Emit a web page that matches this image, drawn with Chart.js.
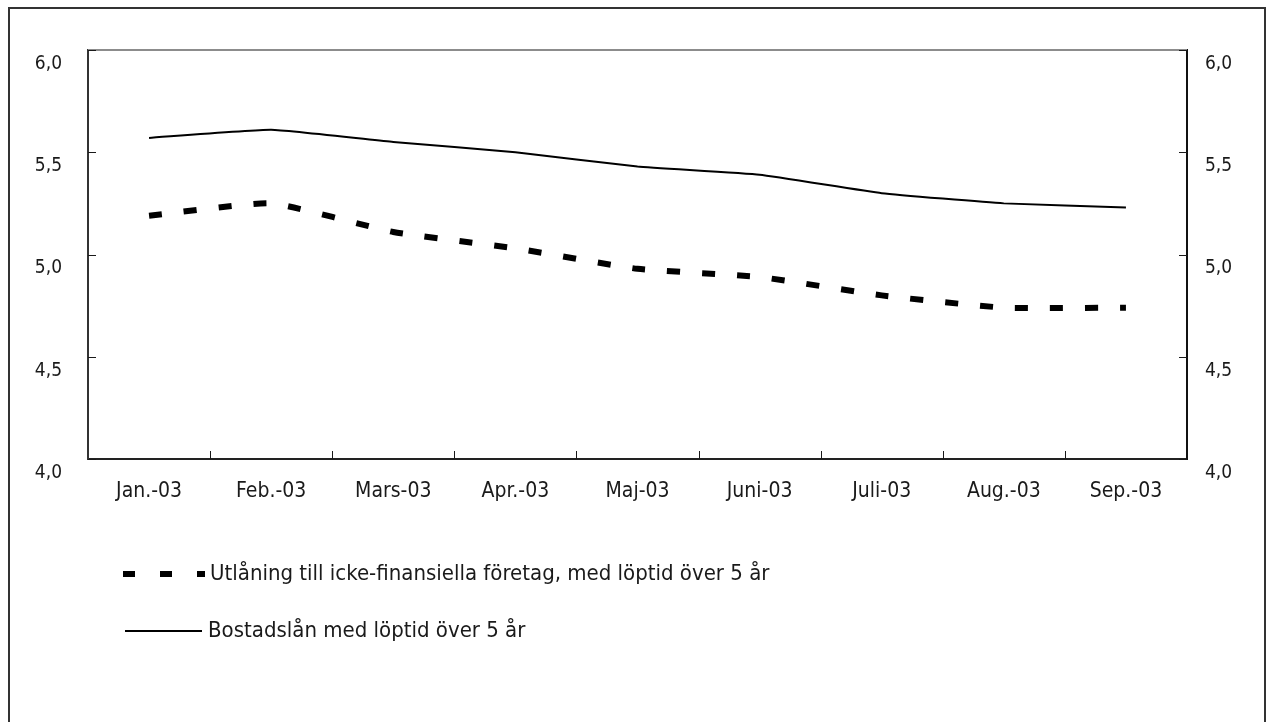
<!DOCTYPE html>
<html>
<head>
<meta charset="utf-8">
<script src="https://cdn.jsdelivr.net/npm/chart.js@4/dist/chart.umd.min.js"></script>
<style>
  html, body { margin: 0; padding: 0; background: #fff; }
  #wrap { width: 1268px; height: 722px; }
</style>
</head>
<body>
<div id="wrap"><canvas id="c" width="1268" height="722"></canvas></div>
<script>
// Data
var months = ['Jan.-03', 'Feb.-03', 'Mars-03', 'Apr.-03', 'Maj-03', 'Juni-03', 'Juli-03', 'Aug.-03', 'Sep.-03'];
var utlaning = [5.19, 5.25, 5.11, 5.03, 4.93, 4.89, 4.80, 4.74, 4.74];
var bostadslan = [5.57, 5.61, 5.55, 5.50, 5.43, 5.39, 5.30, 5.25, 5.23];
var seriesNames = ['Utlåning till icke-finansiella företag, med löptid över 5 år', 'Bostadslån med löptid över 5 år'];
var yMin = 4.0, yMax = 6.0, yStep = 0.5;

var FONT = "'Liberation Sans Narrow', 'Arial Narrow', 'DejaVu Sans Condensed', sans-serif";
var INK = '#1a1a1a';

function fmt(v) {
  return v.toFixed(1).replace('.', ',');
}

// frame, inner ticks and the legend drawn around Chart.js' own scales
var decor = {
  id: 'decor',
  beforeDraw: function (chart) {
    var c = chart.ctx;
    c.save();
    c.strokeStyle = '#333';
    c.lineWidth = 2;
    c.strokeRect(9, 8, 1256, 800);
    c.restore();
  },
  afterDraw: function (chart) {
    var c = chart.ctx;
    var a = chart.chartArea;
    var x = chart.scales.x, y = chart.scales.y;
    var i;
    c.save();
    // top edge of plot area (grey)
    c.strokeStyle = '#8c8c8c';
    c.lineWidth = 2;
    c.beginPath();
    c.moveTo(a.left, a.top);
    c.lineTo(a.right, a.top);
    c.stroke();
    // y ticks pointing inwards on both sides
    c.strokeStyle = INK;
    c.lineWidth = 1;
    y.ticks.forEach(function (t) {
      var py = Math.round(y.getPixelForValue(t.value)) + 0.5;
      c.beginPath();
      c.moveTo(a.left, py);
      c.lineTo(a.left + 8, py);
      c.moveTo(a.right, py);
      c.lineTo(a.right - 8, py);
      c.stroke();
    });
    // x ticks between categories
    for (i = 0; i < months.length - 1; i++) {
      var px = Math.round((x.getPixelForValue(i) + x.getPixelForValue(i + 1)) / 2) + 0.5;
      c.beginPath();
      c.moveTo(px, a.bottom);
      c.lineTo(px, a.bottom - 8);
      c.stroke();
    }
    // legend
    var ds = chart.data.datasets;
    c.font = '22px ' + FONT;
    c.fillStyle = INK;
    c.textBaseline = 'middle';
    c.textAlign = 'left';
    c.strokeStyle = '#000';
    c.lineCap = 'butt';
    c.lineWidth = ds[0].borderWidth;
    c.setLineDash([12, 25]);
    c.beginPath();
    c.moveTo(123, 574);
    c.lineTo(205, 574);
    c.stroke();
    c.fillText(ds[0].label, 210, 574);
    c.setLineDash([]);
    c.lineWidth = ds[1].borderWidth;
    c.beginPath();
    c.moveTo(125, 631);
    c.lineTo(202, 631);
    c.stroke();
    c.fillText(ds[1].label, 208, 631);
    c.restore();
  }
};

new Chart(document.getElementById('c'), {
  type: 'line',
  data: {
    labels: months,
    datasets: [
      {
        label: seriesNames[0],
        data: utlaning,
        borderColor: '#000',
        borderWidth: 6,
        borderDash: [13, 22],
        borderCapStyle: 'butt',
        pointRadius: 0,
        tension: 0.15,
        fill: false
      },
      {
        label: seriesNames[1],
        data: bostadslan,
        borderColor: '#000',
        borderWidth: 2,
        pointRadius: 0,
        tension: 0.12,
        fill: false
      }
    ]
  },
  options: {
    responsive: false,
    animation: false,
    devicePixelRatio: 1,
    layout: { padding: { top: 50, left: 0, right: 0, bottom: 0 } },
    plugins: { legend: { display: false }, tooltip: { enabled: false } },
    scales: {
      x: {
        offset: true,
        grid: { display: false, drawTicks: false },
        border: { display: true, color: '#222', width: 2 },
        ticks: { padding: 20, color: INK, font: { family: FONT, size: 21 }, maxRotation: 0 },
        afterFit: function (s) { s.height = 263; }
      },
      y: {
        position: 'left',
        min: yMin,
        max: yMax,
        grid: { display: false, drawTicks: false },
        border: { display: true, color: '#333', width: 2 },
        ticks: {
          stepSize: yStep,
          padding: 26,
          labelOffset: 14,
          color: INK,
          font: { family: FONT, size: 19 },
          callback: function (v) { return fmt(v); }
        },
        afterFit: function (s) { s.width = 88; }
      },
      y2: {
        position: 'right',
        min: yMin,
        max: yMax,
        grid: { display: false, drawTicks: false },
        border: { display: true, color: '#111', width: 2 },
        ticks: {
          stepSize: yStep,
          padding: 18,
          labelOffset: 14,
          color: INK,
          font: { family: FONT, size: 19 },
          callback: function (v) { return fmt(v); }
        },
        afterFit: function (s) { s.width = 81; }
      }
    }
  },
  plugins: [decor]
});
</script>
</body>
</html>
